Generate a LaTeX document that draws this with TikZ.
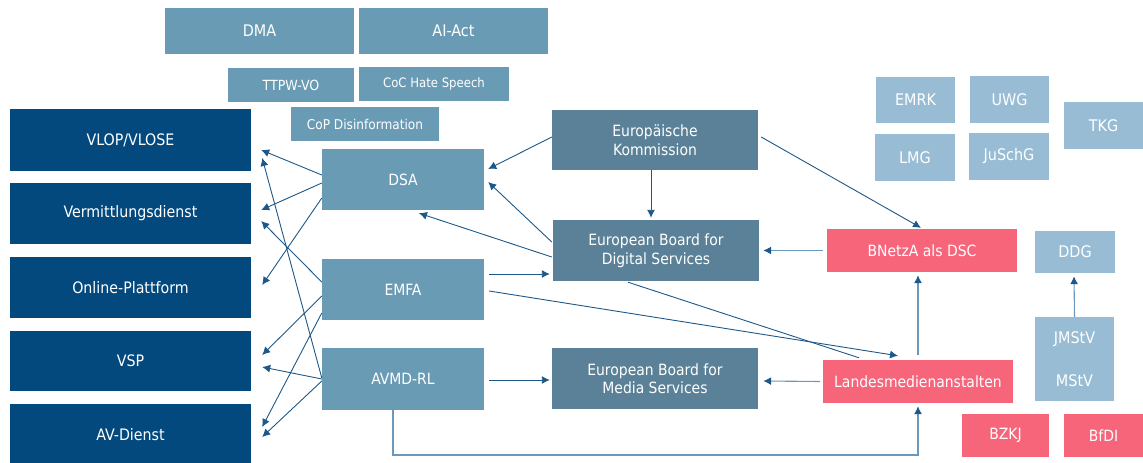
\documentclass[tikz,border=0pt]{standalone}
\usepackage{fontspec}
\setmainfont{DejaVu Sans Condensed}
\usetikzlibrary{arrows.meta,calc}
\definecolor{navy}{HTML}{03497E}
\definecolor{midb}{HTML}{6A9BB5}
\definecolor{slate}{HTML}{5A8197}
\definecolor{lightb}{HTML}{98BCD4}
\definecolor{pinkr}{HTML}{F7657B}
\definecolor{arr}{HTML}{1D5889}
\definecolor{arrlight}{HTML}{6A98BE}
\begin{document}
\begin{tikzpicture}[x=1pt,y=-1pt,
  box/.style={draw=none, text=white, inner sep=0pt, align=center, font=\fontsize{15.5}{18.5}\selectfont},
  navybox/.style={box, fill=navy, minimum width=241, minimum height=61, font=\fontsize{15.8}{18.5}\selectfont},
  midbox/.style={box, fill=midb, minimum width=162, minimum height=61},
  slatebox/.style={box, fill=slate, minimum width=206, minimum height=61},
  lawbox/.style={box, fill=lightb, minimum width=79, minimum height=46, font=\fontsize{16}{19}\selectfont},
  pinkbox/.style={box, fill=pinkr, minimum width=190, minimum height=43},
  con/.style={draw=arr, line width=0.9pt, -{Latex[length=8pt,width=8pt]}},
  conl/.style={draw=arrlight, line width=1.1pt, -{Latex[length=8pt,width=8pt,fill=arr,color=arr]}},
  plain/.style={draw=arr, line width=0.9pt}
]
\useasboundingbox (0,0) rectangle (1143,463);

% top acts
\node[box, fill=midb, minimum width=189, minimum height=46, font=\fontsize{16}{19}\selectfont] (dma) at (259.5,30.5) {DMA};
\node[box, fill=midb, minimum width=189, minimum height=46, font=\fontsize{16}{19}\selectfont] (aiact) at (453.5,30.5) {AI-Act};
\node[box, fill=midb, minimum width=126, minimum height=34, font=\fontsize{14}{16}\selectfont] (ttpw) at (291,85) {TTPW-VO};
\node[box, fill=midb, minimum width=150, minimum height=34, font=\fontsize{13}{15}\selectfont] (coc) at (434,84) {CoC Hate Speech};
\node[box, fill=midb, minimum width=148, minimum height=34, font=\fontsize{13.5}{15}\selectfont] (cop) at (365,124) {CoP Disinformation};

% left column
\node[navybox, minimum height=62] (vlop) at (130.5,140) {VLOP/VLOSE};
\node[navybox] (verm) at (130.5,213.5) {Vermittlungsdienst};
\node[navybox] (online) at (130.5,287.5) {Online-Plattform};
\node[navybox, minimum height=60] (vsp) at (130.5,361) {VSP};
\node[navybox, minimum height=62] (av) at (130.5,435) {AV-Dienst};

% middle acts
\node[midbox] (dsa) at (403,179.5) {DSA};
\node[midbox] (emfa) at (403,289.5) {EMFA};
\node[midbox, minimum height=62] (avmd) at (403,379) {AVMD-RL};

% EU bodies
\node[slatebox, minimum height=60] (ek) at (655,140) {Europäische\\Kommission};
\node[slatebox] (ebds) at (656,250.5) {European Board for\\Digital Services};
\node[slatebox] (ebms) at (655,378.5) {European Board for\\Media Services};

% national
\node[pinkbox] (bnetza) at (922,250.5) {BNetzA als DSC};
\node[pinkbox] (lm) at (918,381.5) {Landesmedienanstalten};

% laws
\node[lawbox] (emrk) at (915.5,100) {EMRK};
\node[lawbox, minimum height=47] (uwg) at (1009.5,99.5) {UWG};
\node[lawbox, minimum height=47] (tkg) at (1103.5,125.5) {TKG};
\node[lawbox, minimum width=80, minimum height=47] (lmg) at (915,157.5) {LMG};
\node[lawbox, minimum width=80, minimum height=47] (juschg) at (1009,156.5) {JuSchG};
\node[lawbox, minimum width=80, minimum height=42] (ddg) at (1075,252) {DDG};
\node[lawbox, minimum height=84] (jmstv) at (1074.5,359) {JMStV\\[24pt]MStV};
\node[pinkbox, minimum width=87] (bzkj) at (1005.5,435.5) {BZKJ};
\node[pinkbox, minimum width=79] (bfdi) at (1103.5,435.5) {BfDI};

% DSA -> addressees
\draw[con] ([yshift=4.5pt]dsa.west) -- ([xshift=10pt,yshift=-10pt]vlop.east);
\draw[con] ([yshift=-3.5pt]dsa.west) -- ([xshift=10pt,yshift=3.5pt]verm.east);
\draw[con] ([yshift=-18.5pt]dsa.west) -- ([xshift=11pt,yshift=2.5pt]online.east);
% EMFA -> addressees
\draw[con] ([yshift=7.5pt]emfa.west) -- ([xshift=10pt,yshift=-7.5pt]verm.east);
\draw[con] ([yshift=-6.5pt]emfa.west) -- ([xshift=11pt,yshift=6pt]vsp.east);
\draw[con] ([yshift=-23.5pt]emfa.west) -- ([xshift=11pt,yshift=8pt]av.east);
% AVMD-RL -> addressees
\draw[con] ([yshift=1pt]avmd.west) -- ([xshift=11pt,yshift=-18pt]vlop.east);
\draw[con] ([yshift=0pt]avmd.west) -- ([xshift=11pt,yshift=-6pt]vsp.east);
\draw[con] ([yshift=-2pt]avmd.west) -- ([xshift=11pt,yshift=-2pt]av.east);

% EU bodies -> DSA
\draw[con] ([yshift=3pt]ek.west) -- ([xshift=4pt,yshift=10.5pt]dsa.east);
\draw[con] ([xshift=-1pt,yshift=8.5pt]ebds.west) -- ([xshift=4pt,yshift=-2.5pt]dsa.east);
\draw[con] ([xshift=-1pt,yshift=-6.5pt]ebds.west) -- ([xshift=16pt,yshift=-3pt]dsa.south);
\draw[con] ([xshift=-4pt]ek.south) -- ([xshift=-5pt,yshift=2pt]ebds.north);

% EMFA
\draw[con] ([xshift=5pt,yshift=15.5pt]emfa.east) -- ([xshift=-3pt,yshift=-23.5pt]ebds.west);
\draw[con] ([xshift=5pt,yshift=-1.5pt]emfa.east) -- ([xshift=-20pt,yshift=4pt]lm.north);
\draw[plain] ([xshift=-28pt,yshift=-1pt]ebds.south) -- ([xshift=-59pt,yshift=2pt]lm.north);

% EK -> BNetzA
\draw[con] ([xshift=3pt,yshift=3pt]ek.east) -- ([xshift=-1pt,yshift=1pt]bnetza.north);

% national -> boards
\draw[conl] ([xshift=-4pt]bnetza.west) -- ([xshift=4pt]ebds.east);
\draw[conl] ([xshift=-3pt]lm.west) -- ([xshift=5pt,yshift=-2.5pt]ebms.east);
\draw[conl] ([yshift=5pt]lm.north) -- ([xshift=-4pt,yshift=-3pt]bnetza.south);

% AVMD-RL -> EBMS
\draw[con] ([xshift=5pt,yshift=-1pt]avmd.east) -- ([xshift=-2pt,yshift=-1.5pt]ebms.west);

% AVMD-RL -> Landesmedienanstalten
\coordinate (bottom) at (0,455);
\draw[conl] ([xshift=-10pt]avmd.south) |- (lm.south |- bottom) -- ([yshift=-3pt]lm.south);

% JMStV -> DDG
\draw[conl] (jmstv.north) -- ([xshift=-1pt,yshift=-3pt]ddg.south);
\end{tikzpicture}
\end{document}
